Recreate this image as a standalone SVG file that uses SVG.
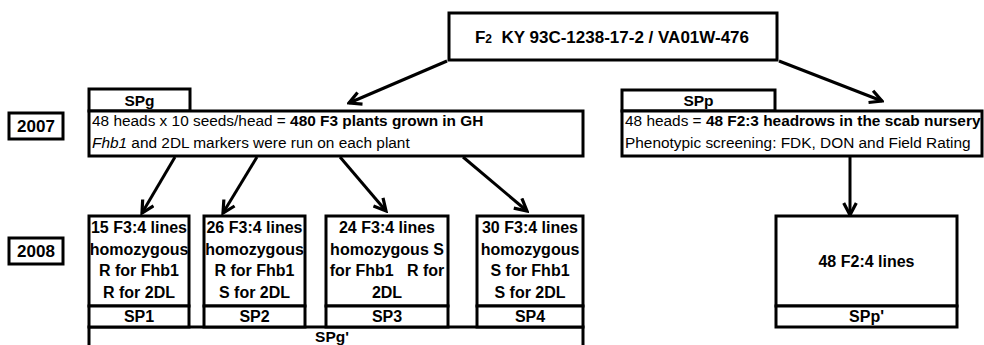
<svg xmlns="http://www.w3.org/2000/svg" width="984" height="345" viewBox="0 0 984 345">
<style>
  .box { fill: #fff; stroke: #000; stroke-width: 3; }
  .t { font-family: "Liberation Sans", Arial, sans-serif; fill: #000; }
  .b { font-weight: bold; }
  .c { text-anchor: middle; }
  .conn { stroke: #000; stroke-width: 3; fill: none; marker-end: url(#arr); }
</style>
<defs>
  <marker id="arr" viewBox="0 0 14 14" refX="12" refY="7" markerUnits="userSpaceOnUse" markerWidth="16" markerHeight="16" orient="auto">
    <path d="M1.5,1.5 L12,7 L1.5,12.5" fill="none" stroke="#000" stroke-width="2.8"/>
  </marker>
</defs>
<rect width="984" height="345" fill="#fff"/>

<g id="connectors">
  <line class="conn" x1="447" y1="61" x2="349" y2="103"/>
  <line class="conn" x1="779" y1="61" x2="882" y2="101"/>
  <line class="conn" x1="175" y1="157" x2="142" y2="213"/>
  <line class="conn" x1="257" y1="157" x2="223" y2="213"/>
  <line class="conn" x1="340" y1="157" x2="386" y2="211"/>
  <line class="conn" x1="463" y1="157" x2="527" y2="211"/>
  <line class="conn" x1="850" y1="157" x2="850" y2="215"/>
</g>

<g id="title">
  <rect class="box" x="449" y="13" width="328" height="47"/>
  <text class="t b c" x="612" y="43" font-size="17" xml:space="preserve">F<tspan font-size="12">2</tspan>  KY 93C-1238-17-2 / VA01W-476</text>
</g>

<g id="y2007">
  <rect class="box" x="9" y="113" width="54" height="26"/>
  <text class="t b c" x="36" y="132" font-size="17">2007</text>
</g>
<g id="y2008">
  <rect class="box" x="9" y="238" width="54" height="26"/>
  <text class="t b c" x="36" y="257" font-size="17">2008</text>
</g>

<g id="SPg">
  <rect class="box" x="89" y="89" width="101" height="22"/>
  <text class="t b c" x="139.5" y="106" font-size="15.5">SPg</text>
  <rect class="box" x="89" y="111" width="494" height="45"/>
  <text class="t" x="92" y="126" font-size="15.4">48 heads x 10 seeds/head = <tspan class="b">480 F3 plants grown in GH</tspan></text>
  <text class="t" x="92" y="148" font-size="15.4"><tspan font-style="italic">Fhb1</tspan> and 2DL markers were run on each plant</text>
</g>

<g id="SPp">
  <rect class="box" x="622" y="90" width="153" height="21"/>
  <text class="t b c" x="698.5" y="106" font-size="15.5">SPp</text>
  <rect class="box" x="622" y="111" width="360" height="45"/>
  <text class="t" x="625" y="126" font-size="15.4">48 heads = <tspan class="b">48 F2:3 headrows in the scab nursery</tspan></text>
  <text class="t" x="625" y="148" font-size="15.4">Phenotypic screening: FDK, DON and Field Rating</text>
</g>

<g id="SPgprime">
  <path d="M89,350 V327 H583 V350" fill="#fff" stroke="#000" stroke-width="3"/>
  <text class="t b c" x="332" y="342" font-size="15.5">SPg'</text>
</g>

<g id="SP1">
  <rect class="box" x="89" y="216" width="100" height="90"/>
  <rect class="box" x="89" y="306" width="100" height="21"/>
  <text class="t b c" font-size="16" x="139"><tspan x="139" y="233">15 F3:4 lines</tspan><tspan x="139" y="255">homozygous</tspan><tspan x="139" y="276">R for Fhb1</tspan><tspan x="139" y="298">R for 2DL</tspan></text>
  <text class="t b c" x="139" y="322" font-size="16">SP1</text>
</g>

<g id="SP2">
  <rect class="box" x="204" y="216" width="101" height="90"/>
  <rect class="box" x="204" y="306" width="101" height="21"/>
  <text class="t b c" font-size="16" x="254.5"><tspan x="254.5" y="233">26 F3:4 lines</tspan><tspan x="254.5" y="255">homozygous</tspan><tspan x="254.5" y="276">R for Fhb1</tspan><tspan x="254.5" y="298">S for 2DL</tspan></text>
  <text class="t b c" x="254.5" y="322" font-size="16">SP2</text>
</g>

<g id="SP3">
  <rect class="box" x="326" y="216" width="122" height="90"/>
  <rect class="box" x="326" y="306" width="122" height="21"/>
  <text class="t b c" font-size="16" x="387" xml:space="preserve"><tspan x="387" y="233">24 F3:4 lines</tspan><tspan x="387" y="255">homozygous S</tspan><tspan x="387" y="276">for Fhb1   R for</tspan><tspan x="387" y="298">2DL</tspan></text>
  <text class="t b c" x="387" y="322" font-size="16">SP3</text>
</g>

<g id="SP4">
  <rect class="box" x="477" y="216" width="106" height="90"/>
  <rect class="box" x="477" y="306" width="106" height="21"/>
  <text class="t b c" font-size="16" x="530"><tspan x="530" y="233">30 F3:4 lines</tspan><tspan x="530" y="255">homozygous</tspan><tspan x="530" y="276">S for Fhb1</tspan><tspan x="530" y="298">S for 2DL</tspan></text>
  <text class="t b c" x="530" y="322" font-size="16">SP4</text>
</g>

<g id="SPpprime">
  <rect class="box" x="776" y="216" width="181" height="90"/>
  <rect class="box" x="776" y="306" width="181" height="21"/>
  <text class="t b c" x="866.5" y="267" font-size="16">48 F2:4 lines</text>
  <text class="t b c" x="866.5" y="322" font-size="16">SPp'</text>
</g>
</svg>
